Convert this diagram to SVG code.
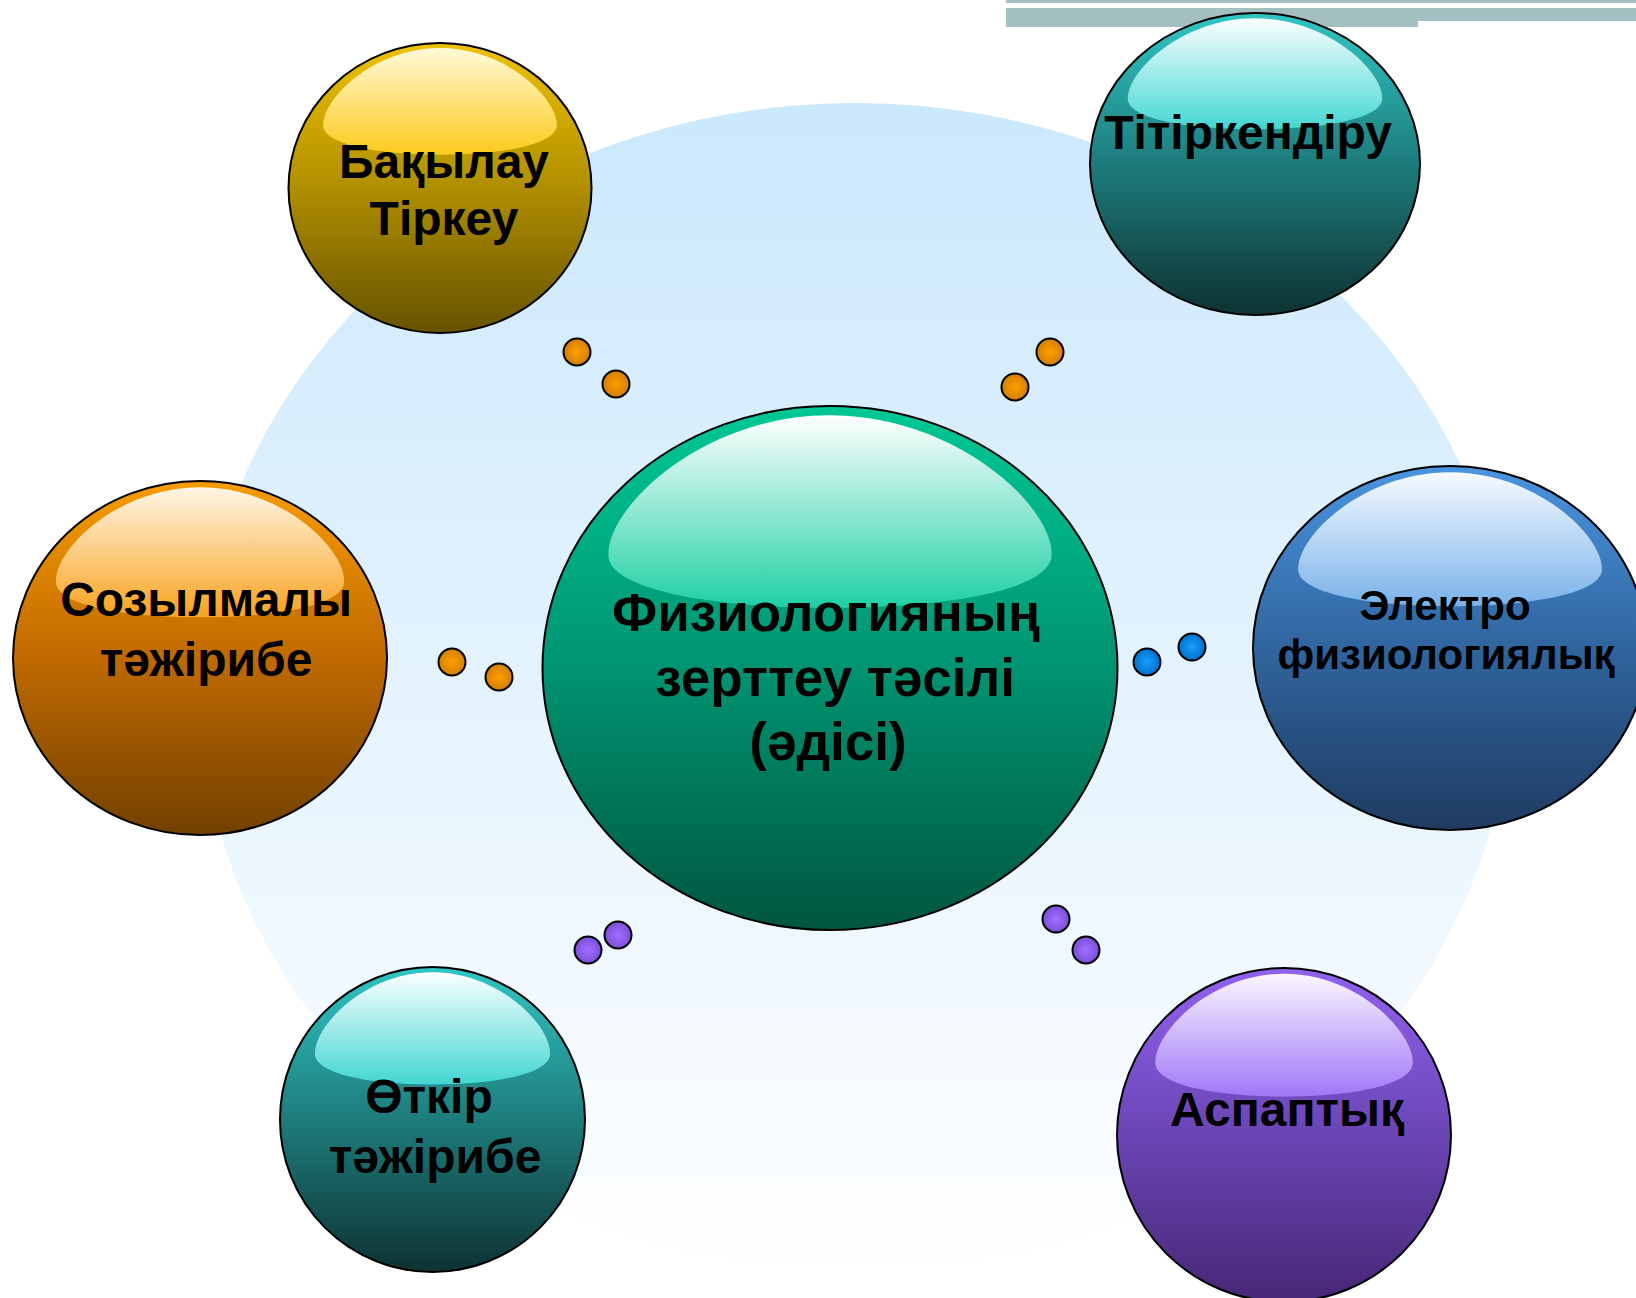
<svg xmlns="http://www.w3.org/2000/svg" width="1636" height="1298" viewBox="0 0 1636 1298">
<defs>
<linearGradient id="bgG" x1="0" y1="0" x2="0" y2="1">
<stop offset="0" stop-color="#CBE8FC"/><stop offset="0.5" stop-color="#E4F3FE"/><stop offset="1" stop-color="#FFFFFF"/>
</linearGradient>
<linearGradient id="gGreen" x1="0" y1="0" x2="0" y2="1"><stop offset="0" stop-color="#00C896"/><stop offset="0.5" stop-color="#009472"/><stop offset="1" stop-color="#00563F"/></linearGradient>
<linearGradient id="gYellow" x1="0" y1="0" x2="0" y2="1"><stop offset="0" stop-color="#EEC200"/><stop offset="0.5" stop-color="#B08E00"/><stop offset="1" stop-color="#665300"/></linearGradient>
<linearGradient id="gTeal" x1="0" y1="0" x2="0" y2="1"><stop offset="0" stop-color="#30C6C4"/><stop offset="0.5" stop-color="#1E7C7C"/><stop offset="1" stop-color="#0E3232"/></linearGradient>
<linearGradient id="gOrange" x1="0" y1="0" x2="0" y2="1"><stop offset="0" stop-color="#F79C00"/><stop offset="0.5" stop-color="#C06A00"/><stop offset="1" stop-color="#724000"/></linearGradient>
<linearGradient id="gBlue" x1="0" y1="0" x2="0" y2="1"><stop offset="0" stop-color="#4A94E0"/><stop offset="0.5" stop-color="#30659E"/><stop offset="1" stop-color="#1F3B62"/></linearGradient>
<linearGradient id="gPurple" x1="0" y1="0" x2="0" y2="1"><stop offset="0" stop-color="#9262F0"/><stop offset="0.5" stop-color="#6A45B4"/><stop offset="1" stop-color="#472776"/></linearGradient>
<linearGradient id="hGreen" x1="0" y1="0" x2="0" y2="1"><stop offset="0" stop-color="#FFFFFF"/><stop offset="1" stop-color="#1ED0A4"/></linearGradient>
<linearGradient id="hYellow" x1="0" y1="0" x2="0" y2="1"><stop offset="0" stop-color="#FFF9D8"/><stop offset="1" stop-color="#FCCB1C"/></linearGradient>
<linearGradient id="hTeal" x1="0" y1="0" x2="0" y2="1"><stop offset="0" stop-color="#FAFFFF"/><stop offset="1" stop-color="#44D6D2"/></linearGradient>
<linearGradient id="hOrange" x1="0" y1="0" x2="0" y2="1"><stop offset="0" stop-color="#FFF6E6"/><stop offset="1" stop-color="#F8A21E"/></linearGradient>
<linearGradient id="hBlue" x1="0" y1="0" x2="0" y2="1"><stop offset="0" stop-color="#F6FAFF"/><stop offset="1" stop-color="#7AB2EA"/></linearGradient>
<linearGradient id="hPurple" x1="0" y1="0" x2="0" y2="1"><stop offset="0" stop-color="#FAF6FF"/><stop offset="1" stop-color="#A077F8"/></linearGradient>
<radialGradient id="dOrange" cx="0.5" cy="0.5" r="0.5"><stop offset="0" stop-color="#FFA000"/><stop offset="1" stop-color="#D27E00"/></radialGradient>
<radialGradient id="dBlue" cx="0.5" cy="0.5" r="0.5"><stop offset="0" stop-color="#1A9CFF"/><stop offset="1" stop-color="#0072CC"/></radialGradient>
<radialGradient id="dPurple" cx="0.5" cy="0.5" r="0.5"><stop offset="0" stop-color="#A070FF"/><stop offset="1" stop-color="#7A4ED8"/></radialGradient>
<path id="hl" d="M -0.77,-0.42 C -0.79,-0.6 -0.45,-0.965 0,-0.965 C 0.45,-0.965 0.79,-0.6 0.77,-0.42 C 0.75,-0.3 0.42,-0.23 0,-0.23 C -0.42,-0.23 -0.75,-0.3 -0.77,-0.42 Z"/>
</defs>
<style>
.body{stroke:#000;stroke-width:2}
.dot{stroke:#000;stroke-width:2}
text{font-family:"Liberation Sans",Arial,sans-serif;font-weight:bold;fill:#000;text-anchor:middle}
.t48{font-size:48px}
.t53{font-size:53px}
.t42{font-size:42px}
</style>
<rect width="1636" height="1298" fill="#FFFFFF"/>
<ellipse id="background" cx="855" cy="688" rx="655" ry="585" fill="url(#bgG)"/>
<g id="bars" fill="#A3BFC2">
<rect x="1006" y="0" width="630" height="3"/>
<rect x="1006" y="8" width="630" height="13"/>
<rect x="1006" y="21" width="412" height="6"/>
</g>
<g id="connectors">
<circle class="dot" cx="577" cy="352" r="13.5" fill="url(#dOrange)"/>
<circle class="dot" cx="616" cy="384" r="13.5" fill="url(#dOrange)"/>
<circle class="dot" cx="1050" cy="352" r="13.5" fill="url(#dOrange)"/>
<circle class="dot" cx="1015" cy="387" r="13.5" fill="url(#dOrange)"/>
<circle class="dot" cx="452" cy="662" r="13.5" fill="url(#dOrange)"/>
<circle class="dot" cx="499" cy="677" r="13.5" fill="url(#dOrange)"/>
<circle class="dot" cx="1147" cy="662" r="13.5" fill="url(#dBlue)"/>
<circle class="dot" cx="1192" cy="647" r="13.5" fill="url(#dBlue)"/>
<circle class="dot" cx="588" cy="950" r="13.5" fill="url(#dPurple)"/>
<circle class="dot" cx="618" cy="935" r="13.5" fill="url(#dPurple)"/>
<circle class="dot" cx="1056" cy="919" r="13.5" fill="url(#dPurple)"/>
<circle class="dot" cx="1086" cy="950" r="13.5" fill="url(#dPurple)"/>
</g>
<g id="node-center">
<ellipse class="body" cx="830" cy="668" rx="287.5" ry="262" fill="url(#gGreen)"/>
<use href="#hl" transform="translate(830,668) scale(287.5,262)" fill="url(#hGreen)"/>
<text class="t53" x="826" y="631">Физиологияның</text>
<text class="t53" x="835" y="696">зерттеу тәсілі</text>
<text class="t53" x="828" y="760">(әдісі)</text>
</g>
<g id="node-bakylau">
<ellipse class="body" cx="440" cy="188" rx="151.5" ry="145" fill="url(#gYellow)"/>
<use href="#hl" transform="translate(440,188) scale(151.5,145)" fill="url(#hYellow)"/>
<text class="t48" x="444" y="178">Бақылау</text>
<text class="t48" x="444" y="235">Тіркеу</text>
</g>
<g id="node-titirkendiru">
<ellipse class="body" cx="1255" cy="164" rx="165" ry="151" fill="url(#gTeal)"/>
<use href="#hl" transform="translate(1255,164) scale(165,151)" fill="url(#hTeal)"/>
<text class="t48" x="1248" y="149">Тітіркендіру</text>
</g>
<g id="node-sozylmaly">
<ellipse class="body" cx="200" cy="658" rx="187" ry="177" fill="url(#gOrange)"/>
<use href="#hl" transform="translate(200,658) scale(187,177)" fill="url(#hOrange)"/>
<text class="t48" x="206" y="616">Созылмалы</text>
<text class="t48" x="206" y="676">тәжірибе</text>
</g>
<g id="node-elektro">
<ellipse class="body" cx="1450" cy="648" rx="197" ry="182" fill="url(#gBlue)"/>
<use href="#hl" transform="translate(1450,648) scale(197,182)" fill="url(#hBlue)"/>
<text class="t42" x="1445" y="620">Электро</text>
<text class="t42" x="1446" y="669">физиологиялық</text>
</g>
<g id="node-otkir">
<ellipse class="body" cx="432.5" cy="1119.5" rx="152.5" ry="152.5" fill="url(#gTeal)"/>
<use href="#hl" transform="translate(432.5,1119.5) scale(152.5,152.5)" fill="url(#hTeal)"/>
<text class="t48" x="429" y="1113">Өткір</text>
<text class="t48" x="435" y="1173">тәжірибе</text>
</g>
<g id="node-aspaptyk">
<ellipse class="body" cx="1284" cy="1135" rx="167" ry="167" fill="url(#gPurple)"/>
<use href="#hl" transform="translate(1284,1135) scale(167,167)" fill="url(#hPurple)"/>
<text class="t48" x="1287" y="1126">Аспаптық</text>
</g>
</svg>
